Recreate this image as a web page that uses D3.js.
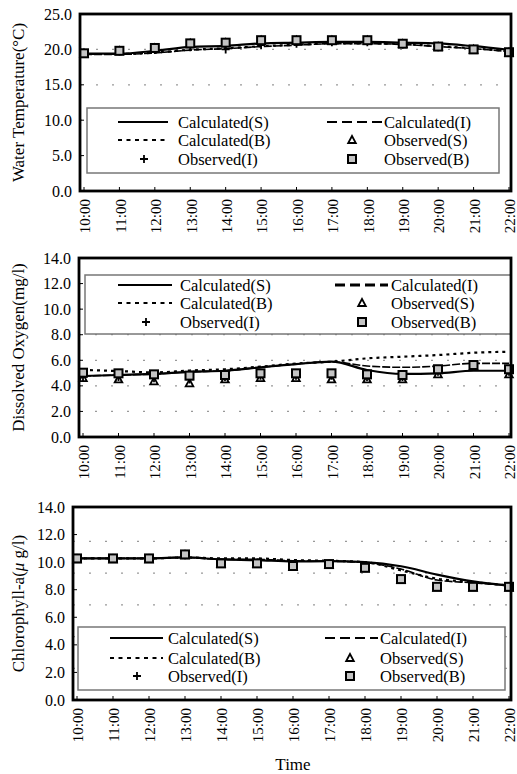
<!DOCTYPE html>
<html>
<head>
<meta charset="utf-8">
<script src="https://cdn.jsdelivr.net/npm/d3@7"></script>
<style>
body { margin: 0; background: #fff; }
</style>
</head>
<body>
<div id="chart"></div>
<script>
// hourly time axis
var times = ["10:00","11:00","12:00","13:00","14:00","15:00","16:00","17:00","18:00","19:00","20:00","21:00","22:00"];

// water temperature (deg C)
var wtCalcS = [19.4, 19.4, 19.8, 20.35, 20.5, 20.85, 20.95, 21.05, 21.05, 20.95, 20.85, 20.45, 19.95];
var wtCalcI = [19.3, 19.3, 19.5, 19.9, 20.1, 20.4, 20.6, 20.8, 20.8, 20.7, 20.4, 20.1, 19.7];
var wtCalcB = [19.35, 19.35, 19.55, 19.95, 20.15, 20.45, 20.65, 20.85, 20.85, 20.75, 20.45, 20.15, 19.75];
var wtObsS = [19.4, 19.75, 20.15, 20.8, 20.9, 21.25, 21.25, 21.25, 21.25, 20.75, 20.35, 19.95, 19.55];
var wtObsI = [19.4, 19.7, 19.9, 20.3, 20.0, 20.6, 20.8, 21.0, 21.0, 20.7, 20.3, 19.9, 19.6];
var wtObsB = [19.45, 19.8, 20.2, 20.85, 20.95, 21.3, 21.3, 21.3, 21.3, 20.8, 20.4, 20.0, 19.6];
var wtTicks = [0, 5, 10, 15, 20, 25];
var wtGrid = [5, 10, 15, 20];

// dissolved oxygen (mg/l)
var doCalcS = [4.77, 4.85, 4.93, 5.1, 5.18, 5.45, 5.7, 5.89, 5.24, 4.93, 4.98, 5.18, 5.18];
var doCalcI = [4.77, 4.85, 4.93, 5.1, 5.18, 5.45, 5.7, 5.89, 5.55, 5.45, 5.55, 5.76, 5.76];
var doCalcB = [5.24, 5.16, 5.05, 5.2, 5.3, 5.5, 5.75, 5.89, 6.15, 6.28, 6.41, 6.59, 6.67];
var doObsS = [4.6, 4.5, 4.35, 4.2, 4.5, 4.6, 4.6, 4.5, 4.5, 4.5, 4.9, 5.5, 4.9];
var doObsI = [4.7, 4.7, 4.6, 4.5, 4.7, 4.8, 4.8, 4.8, 4.7, 4.7, 5.1, 5.6, 5.1];
var doObsB = [5.03, 4.98, 4.9, 4.8, 4.85, 4.98, 4.98, 4.98, 4.9, 4.85, 5.3, 5.63, 5.3];
var doTicks = [0, 2, 4, 6, 8, 10, 12, 14];
var doGrid = [2, 4, 6, 8, 10, 12];

// chlorophyll-a (ug/l)
var chlCalcS = [10.27, 10.27, 10.27, 10.34, 10.2, 10.15, 10.05, 10.07, 10.0, 9.7, 9.1, 8.6, 8.3];
var chlCalcI = [10.27, 10.27, 10.27, 10.34, 10.2, 10.2, 10.1, 10.07, 9.97, 9.5, 8.7, 8.5, 8.3];
var chlCalcB = [10.27, 10.27, 10.27, 10.34, 10.27, 10.27, 10.15, 10.1, 10.0, 9.4, 8.8, 8.55, 8.3];
var chlObsS = [10.2, 10.2, 10.2, 10.5, 9.85, 9.85, 9.65, 9.8, 9.55, 8.7, 8.15, 8.15, 8.15];
var chlObsI = [10.25, 10.25, 10.25, 10.5, 9.9, 9.9, 9.7, 9.85, 9.6, 8.75, 8.2, 8.2, 8.2];
var chlObsB = [10.27, 10.27, 10.27, 10.56, 9.91, 9.91, 9.72, 9.86, 9.59, 8.77, 8.21, 8.21, 8.21];
var chlTicks = [0, 2, 4, 6, 8, 10, 12, 14];
var chlGrid = [2.3, 4.6, 6.9, 9.2, 11.5];

var legendNames = ["Calculated(S)", "Calculated(I)", "Calculated(B)", "Observed(S)", "Observed(I)", "Observed(B)"];

var W = 517, H = 774;
var svg = d3.select("#chart").append("svg").attr("width", W).attr("height", H)
	.attr("font-family", "Liberation Serif");

var panels = [
	{ title: "Water Temperature(\u00b0C)", max: 25, ticks: wtTicks, grid: wtGrid,
	  calc: [wtCalcS, wtCalcI, wtCalcB], obs: [wtObsS, wtObsI, wtObsB],
	  left: 80, top: 14, bottom: 191, x0: 84,
	  leg: { x: 87, y: 108, w: 412, h: 65, rows: [122, 140, 159], c1: [118, 168, 178, 144], c2: [327, 382, 384, 352], dw: 1.8 } },
	{ title: "Dissolved Oxygen(mg/l)", max: 14, ticks: doTicks, grid: doGrid,
	  calc: [doCalcS, doCalcI, doCalcB], obs: [doObsS, doObsI, doObsB],
	  left: 79, top: 258, bottom: 437, x0: 83,
	  leg: { x: 85, y: 275, w: 426, h: 59, rows: [285, 303, 322], c1: [118, 172, 180, 146], c2: [335, 388, 391, 362], dw: 2.8 } },
	{ title: "Chlorophyll-a(", italic: "\u03bc", rest: " g/l)", max: 14, ticks: chlTicks, grid: chlGrid,
	  calc: [chlCalcS, chlCalcI, chlCalcB], obs: [chlObsS, chlObsI, chlObsB],
	  left: 73, top: 507, bottom: 700, x0: 77,
	  leg: { x: 78, y: 627, w: 427, h: 63, rows: [638, 658, 676], c1: [110, 163, 168, 137], c2: [325, 378, 380, 350], dw: 1.8 } }
];

var right = 511;
var lineStyles = [
	{ w: 2.2, dash: null },
	{ w: 1.6, dash: "8,2" },
	{ w: 2.2, dash: "3,4" }
];

function drawSquare(g, x, y) {
	g.append("rect").attr("x", x - 4).attr("y", y - 4).attr("width", 8).attr("height", 8)
		.attr("fill", "#c4c4c4").attr("stroke", "#000").attr("stroke-width", 2);
}
function drawTriangle(g, x, y) {
	g.append("path").attr("d", "M" + x + "," + (y - 4) + "L" + (x + 3.8) + "," + (y + 3) + "L" + (x - 3.8) + "," + (y + 3) + "Z")
		.attr("fill", "#fff").attr("stroke", "#000").attr("stroke-width", 1.8);
}
function drawCross(g, x, y) {
	g.append("path").attr("d", "M" + (x - 4) + "," + y + "H" + (x + 4) + "M" + x + "," + (y - 4) + "V" + (y + 4))
		.attr("stroke", "#000").attr("stroke-width", 1.8);
}
var markers = [drawTriangle, drawCross, drawSquare];

panels.forEach(function(p) {
	var g = svg.append("g");
	var x = d3.scalePoint().domain(times).range([p.x0, 509]);
	var y = d3.scaleLinear().domain([0, p.max]).range([p.bottom, p.top]);

	// grid
	g.selectAll(".grid").data(p.grid).enter().append("line")
		.attr("x1", p.left).attr("x2", right)
		.attr("y1", function(d) { return y(d); }).attr("y2", function(d) { return y(d); })
		.attr("stroke", "#999").attr("stroke-width", 1.2).attr("stroke-dasharray", "2,14");

	// y tick labels
	g.selectAll(".yl").data(p.ticks).enter().append("text")
		.attr("x", p.left - 8).attr("y", function(d) { return y(d); }).attr("dy", "0.35em")
		.attr("text-anchor", "end").attr("font-size", 16)
		.text(function(d) { return d.toFixed(1); });

	// x tick labels
	g.selectAll(".xl").data(times).enter().append("text")
		.attr("transform", function(d) { return "translate(" + (x(d) + 1) + "," + (p.bottom + 8) + ")rotate(-90)"; })
		.attr("dy", "0.35em").attr("text-anchor", "end").attr("font-size", 15)
		.text(function(d) { return d; });

	// inner ticks
	g.selectAll(".xt").data(times).enter().append("line")
		.attr("x1", function(d) { return x(d); }).attr("x2", function(d) { return x(d); })
		.attr("y1", p.bottom).attr("y2", p.bottom - 4).attr("stroke", "#000").attr("stroke-width", 1);
	g.selectAll(".yt").data(p.ticks).enter().append("line")
		.attr("x1", p.left).attr("x2", p.left + 4)
		.attr("y1", function(d) { return y(d); }).attr("y2", function(d) { return y(d); })
		.attr("stroke", "#000").attr("stroke-width", 1);

	// y title
	var t = g.append("text")
		.attr("transform", "translate(18," + ((p.top + p.bottom) / 2) + ")rotate(-90)")
		.attr("text-anchor", "middle").attr("dy", "0.35em").attr("font-size", 17);
	t.append("tspan").text(p.title);
	if (p.italic) {
		t.append("tspan").attr("font-style", "italic").text(p.italic);
		t.append("tspan").text(p.rest);
	}

	// calculated lines
	var line = d3.line().x(function(d, i) { return x(times[i]); }).y(function(d) { return y(d); })
		.curve(d3.curveMonotoneX);
	[2, 1, 0].forEach(function(k) {
		g.append("path").datum(p.calc[k]).attr("d", line)
			.attr("fill", "none").attr("stroke", "#000")
			.attr("stroke-width", lineStyles[k].w)
			.attr("stroke-dasharray", lineStyles[k].dash);
	});

	// observed markers
	p.obs.forEach(function(series, k) {
		series.forEach(function(v, i) { markers[k](g, x(times[i]), y(v)); });
	});

	// legend
	var L = p.leg;
	g.append("rect").attr("x", L.x).attr("y", L.y).attr("width", L.w).attr("height", L.h)
		.attr("fill", "#fff").attr("stroke", "#777").attr("stroke-width", 1.5);
	legendNames.forEach(function(name, i) {
		var col = i % 2 === 0 ? L.c1 : L.c2;
		var ry = L.rows[Math.floor(i / 2)];
		if (i < 3) {
			var st = i === 0 ? lineStyles[0] : (i === 1 ? { w: L.dw, dash: "10,5" } : { w: 2, dash: "4,4.5" });
			g.append("line").attr("x1", col[0]).attr("x2", col[1]).attr("y1", ry).attr("y2", ry)
				.attr("stroke", "#000").attr("stroke-width", st.w).attr("stroke-dasharray", st.dash);
		} else {
			markers[i - 3](g, col[3], ry);
		}
		g.append("text").attr("x", col[2]).attr("y", ry).attr("dy", "0.35em")
			.attr("font-size", 16.5).text(name);
	});

	// frame
	g.append("rect").attr("x", p.left).attr("y", p.top).attr("width", right - p.left).attr("height", p.bottom - p.top)
		.attr("fill", "none").attr("stroke", "#000").attr("stroke-width", 2.8);
});

svg.append("text").attr("x", 293).attr("y", 764).attr("dy", "0.35em").attr("text-anchor", "middle")
	.attr("font-size", 17).text("Time");
</script>
</body>
</html>
